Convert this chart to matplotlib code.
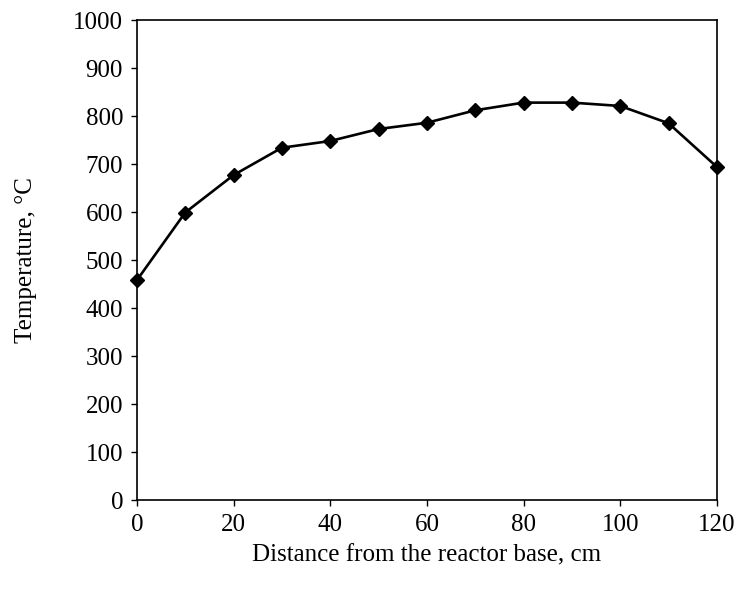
import matplotlib
matplotlib.use("Agg")
import matplotlib.pyplot as plt

distance_cm = [0, 10, 20, 30, 40, 50, 60, 70, 80, 90, 100, 110, 120]
temperature_c = [458, 599, 677, 734, 748, 773, 786, 812, 828, 828, 821, 785, 694]
x_ticks = [0, 20, 40, 60, 80, 100, 120]
y_ticks = [0, 100, 200, 300, 400, 500, 600, 700, 800, 900, 1000]

plt.rcParams['font.family'] = ['Liberation Serif', 'DejaVu Serif']

fig = plt.figure(figsize=(7.36, 5.9), dpi=100)
ax = fig.add_axes([0.186, 0.1525, 0.788, 0.8135])
ax.plot(distance_cm, temperature_c, color='black', linewidth=1.9,
        marker='D', markersize=7.5, markerfacecolor='black', markeredgecolor='black',
        clip_on=False, zorder=3)
ax.set_xlim(0, 120)
ax.set_ylim(0, 1000)
ax.set_xticks(x_ticks)
ax.set_yticks(y_ticks)
ax.tick_params(direction='out', length=4, width=1, labelsize=18, pad=6, colors='black')
for s in ax.spines.values():
    s.set_linewidth(1.2)
ax.set_xlabel('Distance from the reactor base, cm', fontsize=18, labelpad=6)
ax.set_ylabel('Temperature, °C', fontsize=18, labelpad=26)
fig.savefig('out.png', dpi=100)
